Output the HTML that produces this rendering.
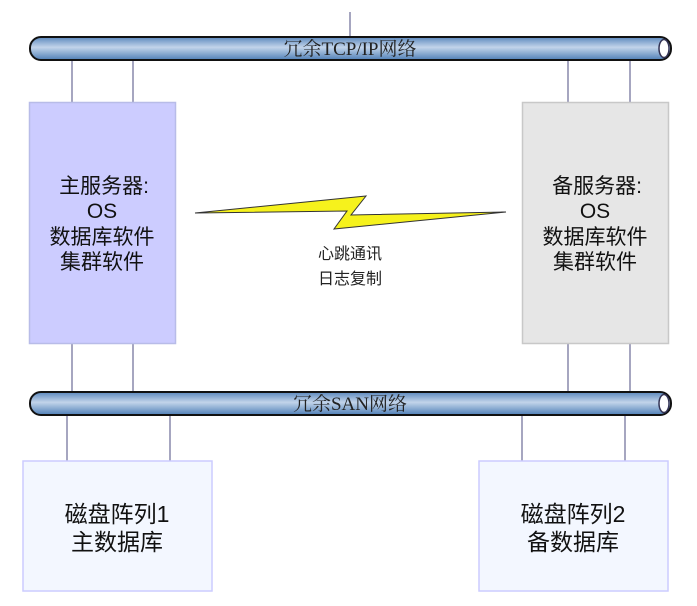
<!DOCTYPE html>
<html><head><meta charset="utf-8"><style>
html,body{margin:0;padding:0;background:#fff;width:697px;height:606px;overflow:hidden}
</style></head><body>
<svg width="697" height="606" xmlns="http://www.w3.org/2000/svg">
<defs>
<linearGradient id="pipe" x1="0" y1="0" x2="0" y2="1">
<stop offset="0" stop-color="#5b88bd"/><stop offset="0.45" stop-color="#c2d4ea"/><stop offset="1" stop-color="#4f7fb7"/>
</linearGradient>
</defs>
<g stroke="#8888aa" stroke-width="1.5">
<line x1="350" y1="12" x2="350" y2="37"/>
<line x1="72" y1="60" x2="72" y2="102"/><line x1="133" y1="60" x2="133" y2="102"/>
<line x1="568" y1="60" x2="568" y2="102"/><line x1="630" y1="60" x2="630" y2="102"/>
<line x1="72" y1="344" x2="72" y2="393"/><line x1="133" y1="344" x2="133" y2="393"/>
<line x1="568" y1="344" x2="568" y2="393"/><line x1="630" y1="344" x2="630" y2="393"/>
<line x1="67" y1="415" x2="67" y2="461"/><line x1="170" y1="415" x2="170" y2="461"/>
<line x1="522" y1="415" x2="522" y2="461"/><line x1="625" y1="415" x2="625" y2="461"/>
</g>
<rect x="30" y="37" width="641" height="23" rx="11" fill="url(#pipe)" stroke="#111" stroke-width="2"/>
<ellipse cx="664" cy="48.5" rx="5" ry="9" fill="#fff" stroke="#335" stroke-width="1.5"/>
<rect x="30" y="392" width="641" height="23" rx="11" fill="url(#pipe)" stroke="#111" stroke-width="2"/>
<ellipse cx="664" cy="403.5" rx="5" ry="9" fill="#fff" stroke="#335" stroke-width="1.5"/>
<text x="350" y="55" text-anchor="middle" font-family="Liberation Serif,Noto Serif CJK SC,serif" font-size="19" fill="#222">冗余TCP/IP网络</text>
<text x="350" y="410" text-anchor="middle" font-family="Liberation Serif,Noto Serif CJK SC,serif" font-size="19" fill="#222">冗余SAN网络</text>
<rect x="29.5" y="102.5" width="146" height="241" fill="#ccccff" stroke="#b8bce8" stroke-width="1.5"/>
<rect x="522.5" y="102.5" width="146" height="241" fill="#e6e6e6" stroke="#c8c8c8" stroke-width="1.5"/>
<rect x="23" y="461" width="189" height="130" fill="#f3f7ff" stroke="#ccccff" stroke-width="1.5"/>
<rect x="479" y="461" width="189" height="130" fill="#f3f7ff" stroke="#ccccff" stroke-width="1.5"/>
<g font-family="Liberation Sans,Noto Sans CJK SC,sans-serif" font-size="21" fill="#111" text-anchor="middle">
<text x="104" y="193">主服务器:</text><text x="102" y="218">OS</text><text x="102" y="244">数据库软件</text><text x="102" y="269">集群软件</text>
<text x="597" y="193">备服务器:</text><text x="595" y="218">OS</text><text x="595" y="244">数据库软件</text><text x="595" y="269">集群软件</text>
<text x="117" y="522" font-size="23">磁盘阵列1</text><text x="117" y="550" font-size="23">主数据库</text>
<text x="573" y="522" font-size="23">磁盘阵列2</text><text x="573" y="550" font-size="23">备数据库</text>
</g>
<g font-family="Liberation Sans,Noto Sans CJK SC,sans-serif" font-size="16" fill="#222" text-anchor="middle">
<text x="350" y="259">心跳通讯</text><text x="350" y="284">日志复制</text>
</g>
<polygon points="195,213 366,196 351,215 506,212 334,229 347,211" fill="#f6f21c" stroke="#333" stroke-width="1"/>
</svg>
</body></html>
